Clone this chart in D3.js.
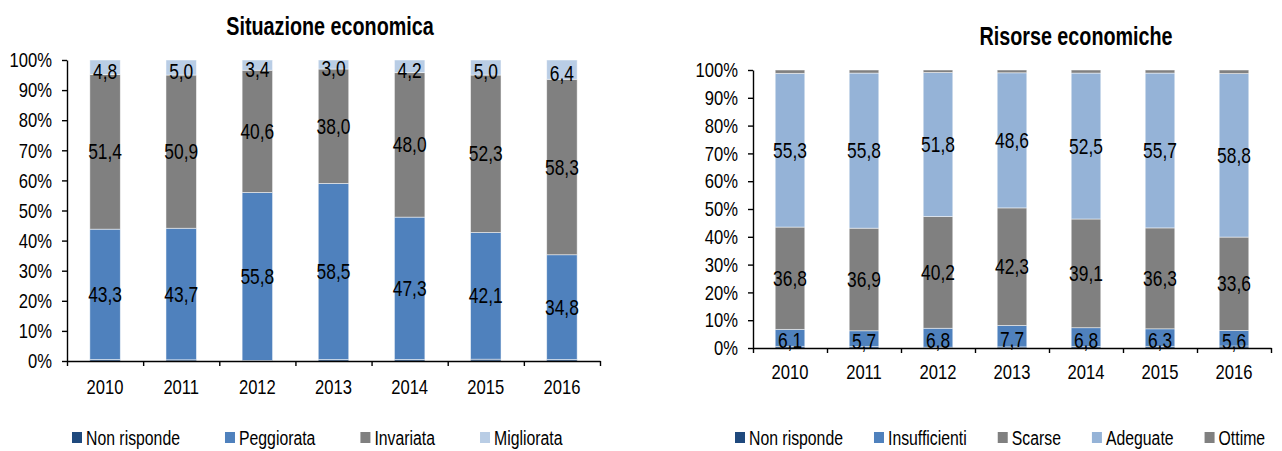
<!DOCTYPE html>
<html lang="it">
<head>
<meta charset="UTF-8">
<title>Situazione e risorse economiche</title>
<script src="https://cdn.jsdelivr.net/npm/d3@7"></script>
<style>
  body { margin: 0; background: #fff; }
  svg text { font-family: "Liberation Sans", Arial, sans-serif; fill: #000; }
</style>
</head>
<body>
<script>
// years on the x axis
const years = ["2010", "2011", "2012", "2013", "2014", "2015", "2016"];

// Situazione economica (%)
const sitNonRisponde = [0.5, 0.4, 0.2, 0.5, 0.5, 0.6, 0.5];
const sitPeggiorata  = [43.3, 43.7, 55.8, 58.5, 47.3, 42.1, 34.8];
const sitInvariata   = [51.4, 50.9, 40.6, 38.0, 48.0, 52.3, 58.3];
const sitMigliorata  = [4.8, 5.0, 3.4, 3.0, 4.2, 5.0, 6.4];

// Risorse economiche (%)
const risNonRisponde   = [0.6, 0.5, 0.3, 0.4, 0.5, 0.6, 0.7];
const risInsufficienti = [6.1, 5.7, 6.8, 7.7, 6.8, 6.3, 5.6];
const risScarse        = [36.8, 36.9, 40.2, 42.3, 39.1, 36.3, 33.6];
const risAdeguate      = [55.3, 55.8, 51.8, 48.6, 52.5, 55.7, 58.8];
const risOttime        = [1.2, 1.1, 0.9, 1.0, 1.1, 1.1, 1.3];

const yTicks = [0, 0.1, 0.2, 0.3, 0.4, 0.5, 0.6, 0.7, 0.8, 0.9, 1];

const W = 1282, H = 451;
const NARROW = 0.79;   // mimic Arial Narrow
const svg = d3.select("body").append("svg")
    .attr("width", W).attr("height", H)
    .attr("viewBox", [0, 0, W, H]);

const fmt = v => d3.format(".1f")(v).replace(".", ",");

// squeeze text horizontally, keeps the anchor
function narrow(sel) {
    sel.each(function () {
        const w = this.getComputedTextLength();
        d3.select(this)
            .attr("textLength", w * NARROW)
            .attr("lengthAdjust", "spacingAndGlyphs");
    });
}

function drawChart(cfg) {
    const { left, right, top, bottom } = cfg;

    const x = d3.scaleBand()
        .domain(years)
        .range([left, right])
        .paddingInner(0.6)
        .paddingOuter(0.3);

    const y = d3.scaleLinear()
        .domain([0, 1])
        .range([bottom, top]);

    // normalise to 100% stacks
    const rows = years.map((yr, i) => {
        const r = { year: yr };
        const tot = d3.sum(cfg.series, s => s.values[i]);
        cfg.series.forEach(s => r[s.name] = s.values[i] / tot);
        return r;
    });
    const stack = d3.stack().keys(cfg.series.map(s => s.name))(rows);

    const g = svg.append("g");

    stack.forEach((layer, li) => {
        const s = cfg.series[li];
        g.append("g").selectAll("rect")
            .data(layer)
            .join("rect")
            .attr("x", d => x(d.data.year))
            .attr("width", x.bandwidth())
            .attr("y", d => y(d[1]))
            .attr("height", d => y(d[0]) - y(d[1]))
            .attr("fill", s.color)
            .attr("stroke", "#ffffff")
            .attr("stroke-opacity", 0.6)
            .attr("stroke-width", 0.8);
    });

    // data labels
    stack.forEach((layer, li) => {
        const s = cfg.series[li];
        if (!s.label) return;
        g.append("g").selectAll("text")
            .data(layer)
            .join("text")
            .attr("x", d => x(d.data.year) + x.bandwidth() / 2)
            .attr("y", d => (y(d[0]) + y(d[1])) / 2 + (s.labelShift || 0))
            .attr("text-anchor", "middle")
            .attr("dominant-baseline", "central")
            .attr("font-size", 22)
            .text((d, i) => fmt(s.values[i]))
            .call(narrow);
    });

    // y axis
    g.append("g")
        .attr("transform", `translate(${left},0)`)
        .call(d3.axisLeft(y).tickValues(yTicks).tickFormat(d3.format(".0%"))
            .tickSize(5).tickSizeOuter(0).tickPadding(10))
        .call(a => a.select(".domain").attr("stroke-width", 1.4))
        .call(a => a.selectAll(".tick line").attr("stroke-width", 1.4))
        .call(a => a.selectAll("text").attr("font-size", 21).attr("font-family", null).call(narrow));

    // x axis: boundary ticks
    const xb = d3.scaleLinear().domain([0, years.length]).range([left, right]);
    g.append("g")
        .attr("transform", `translate(0,${bottom})`)
        .call(d3.axisBottom(xb).tickValues(d3.range(years.length + 1)).tickFormat("")
            .tickSize(5).tickSizeOuter(0))
        .call(a => a.select(".domain").attr("stroke-width", 1.4))
        .call(a => a.selectAll(".tick line").attr("stroke-width", 1.4));

    // x axis: category labels
    g.append("g")
        .attr("transform", `translate(0,${bottom})`)
        .call(d3.axisBottom(x).tickSize(0).tickPadding(cfg.labelPad))
        .call(a => a.select(".domain").remove())
        .call(a => a.selectAll("text").attr("font-size", 21).attr("font-family", null).call(narrow));

    // title
    g.append("text")
        .attr("x", cfg.titleX)
        .attr("y", cfg.titleY)
        .attr("text-anchor", "middle")
        .attr("font-size", 25)
        .attr("font-weight", "bold")
        .text(cfg.title)
        .call(narrow);

    // legend
    const lg = g.append("g").attr("transform", `translate(${cfg.legendX},${cfg.legendY})`);
    let cx = 0;
    cfg.series.forEach(s => {
        const it = lg.append("g").attr("transform", `translate(${cx},0)`);
        it.append("rect")
            .attr("x", 0).attr("y", -6)
            .attr("width", 10).attr("height", 11)
            .attr("fill", s.color);
        const t = it.append("text")
            .attr("x", 14).attr("y", 0)
            .attr("dominant-baseline", "central")
            .attr("font-size", 20)
            .text(s.name);
        const w = t.node().getComputedTextLength() * NARROW;
        t.attr("textLength", w).attr("lengthAdjust", "spacingAndGlyphs");
        cx += 14 + w + cfg.legendGap;
    });
}

drawChart({
    title: "Situazione economica",
    titleX: 330, titleY: 35,
    left: 67, right: 600, top: 60, bottom: 361,
    labelPad: 18,
    legendX: 72, legendY: 438, legendGap: 45,
    series: [
        { name: "Non risponde", values: sitNonRisponde, color: "#1F497D", label: false },
        { name: "Peggiorata", values: sitPeggiorata, color: "#4F81BD", label: true },
        { name: "Invariata", values: sitInvariata, color: "#808080", label: true },
        { name: "Migliorata", values: sitMigliorata, color: "#B9CDE5", label: true, labelShift: 4 }
    ]
});

drawChart({
    title: "Risorse economiche",
    titleX: 1076, titleY: 45,
    left: 753, right: 1271, top: 70, bottom: 348,
    labelPad: 16,
    legendX: 735, legendY: 438, legendGap: 31,
    series: [
        { name: "Non risponde", values: risNonRisponde, color: "#1F497D", label: false },
        { name: "Insufficienti", values: risInsufficienti, color: "#4F81BD", label: true, labelShift: 3 },
        { name: "Scarse", values: risScarse, color: "#808080", label: true },
        { name: "Adeguate", values: risAdeguate, color: "#95B3D7", label: true },
        { name: "Ottime", values: risOttime, color: "#808080", label: false }
    ]
});
</script>
</body>
</html>
